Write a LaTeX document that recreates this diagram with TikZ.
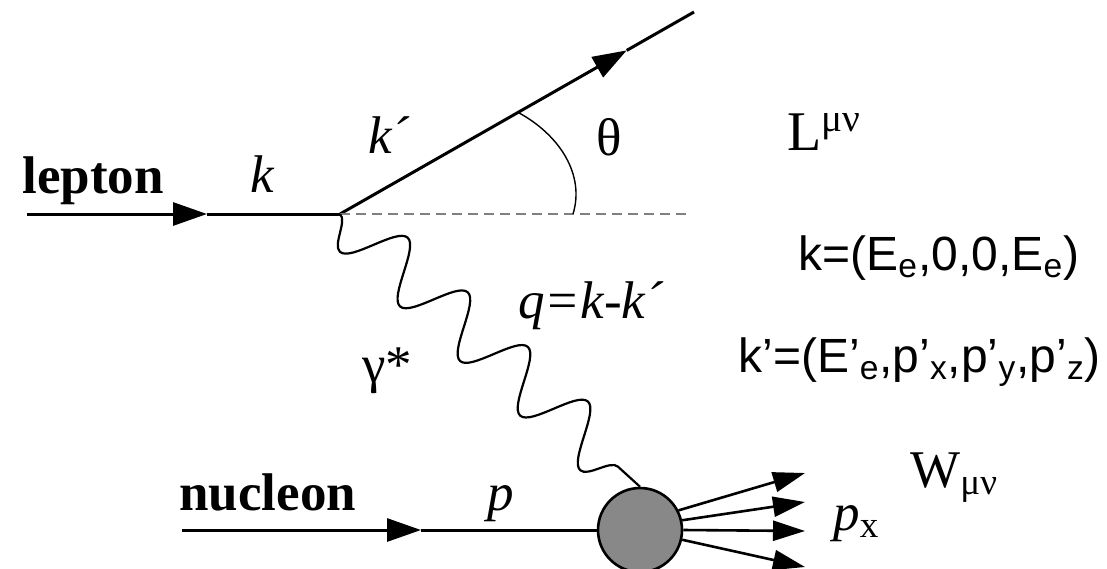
\documentclass[tikz,border=0pt]{standalone}
\usepackage{fontspec}
\setmainfont{Liberation Serif}
\newfontfamily\arialfont{Liberation Sans}
\usetikzlibrary{arrows.meta,decorations.pathmorphing,calc}
\definecolor{blobgray}{RGB}{136,136,136}
\definecolor{dashgray}{RGB}{128,128,128}

\begin{document}
\begin{tikzpicture}[x=0.5pt,y=-0.5pt,
    fermion/.style={line width=1.5pt,-{Triangle[length=17pt,width=11.5pt]}},
    line/.style={line width=1.5pt},
    outgo/.style={line width=1.3pt,-{Triangle[length=16pt,width=10pt]}},
    photon/.style={line width=1.1pt,decorate,
      decoration={snake,amplitude=-14pt,segment length=40.6pt}},
    blob/.style={circle,draw,line width=1.3pt,fill=blobgray,
      minimum size=42pt,inner sep=0pt},
    lbl/.style={anchor=base west,inner sep=0pt,
      font=\fontsize{26.5pt}{30pt}\selectfont},
    eq/.style={anchor=base west,inner sep=0pt,
      font=\fontsize{24pt}{28pt}\selectfont\arialfont}]
  \useasboundingbox (0,0) rectangle (1107,568);
  % ---- lepton line and scattered lepton ----
  \coordinate (lin) at (27,214);
  \coordinate (larr) at (207,214);
  \coordinate (v) at (340,214);
  \coordinate (kout) at (694,12);
  \coordinate (karr) at ($(v)!0.81!(kout)$);
  \coordinate (dend) at (688,214);
  \draw[fermion] (lin) -- (larr);
  \draw[line] (larr) -- (v);
  \draw[fermion] (v) -- (karr);
  \draw[line] (karr) -- (kout);
  \draw[dashgray,line width=1.4pt,dash pattern=on 5pt off 3pt] (v) -- (dend);
  % angle
  \coordinate (a1) at ($(v)!0.503!(kout)$);
  \coordinate (a2) at (573,214);
  \draw[line width=0.7pt] (a1) .. controls (560,135) and (585,175) .. (a2);
  % ---- nucleon and hadronic blob ----
  \node[blob] (blob) at (640,530) {};
  \coordinate (nin) at (182,530);
  \coordinate (narr) at (421,530);
  \draw[fermion] (nin) -- (narr);
  \draw[line] (narr) -- (blob.west);
  \foreach \a/\ty [count=\i] in {27/473,13/502,0/531,-13/567}{
    \coordinate (px\i) at (805,\ty);
    \draw[outgo] (blob.\a) -- (px\i);
  }
  % ---- virtual photon ----
  \draw[photon] (v) -- (blob.north);
  % ---- labels ----
  \node[lbl] (lepton) at (22,193) {\bfseries lepton};
  \node[lbl] (klbl) at (250,192) {\textit{k}};
  \node[lbl] (kplbl) at (368,153) {\textit{k´}};
  \node[lbl] (theta) at (596,155) {θ};
  \node[lbl,font=\fontsize{28pt}{30pt}\selectfont] (lmunu) at (787,150) {L\textsuperscript{μν}};
  \node[eq] (keq) at (798,270) {k=(E\textsubscript{e},0,0,E\textsubscript{e})};
  \node[eq] (kpeq) at (738,372) {k’=(E’\textsubscript{e},p’\textsubscript{x},p’\textsubscript{y},p’\textsubscript{z})};
  \node[lbl] (qlbl) at (518,318) {\textit{q=k-k´}};
  \node[lbl] (gamma) at (362,382) {γ*};
  \node[lbl] (nucleon) at (179,510) {\bfseries nucleon};
  \node[lbl] (plbl) at (487,510) {\textit{p}};
  \node[lbl] (wmunu) at (910,487) {W\textsubscript{μν}};
  \node[lbl] (pxlbl) at (833,530) {\textit{p}\textsubscript{x}};
\end{tikzpicture}
\end{document}
